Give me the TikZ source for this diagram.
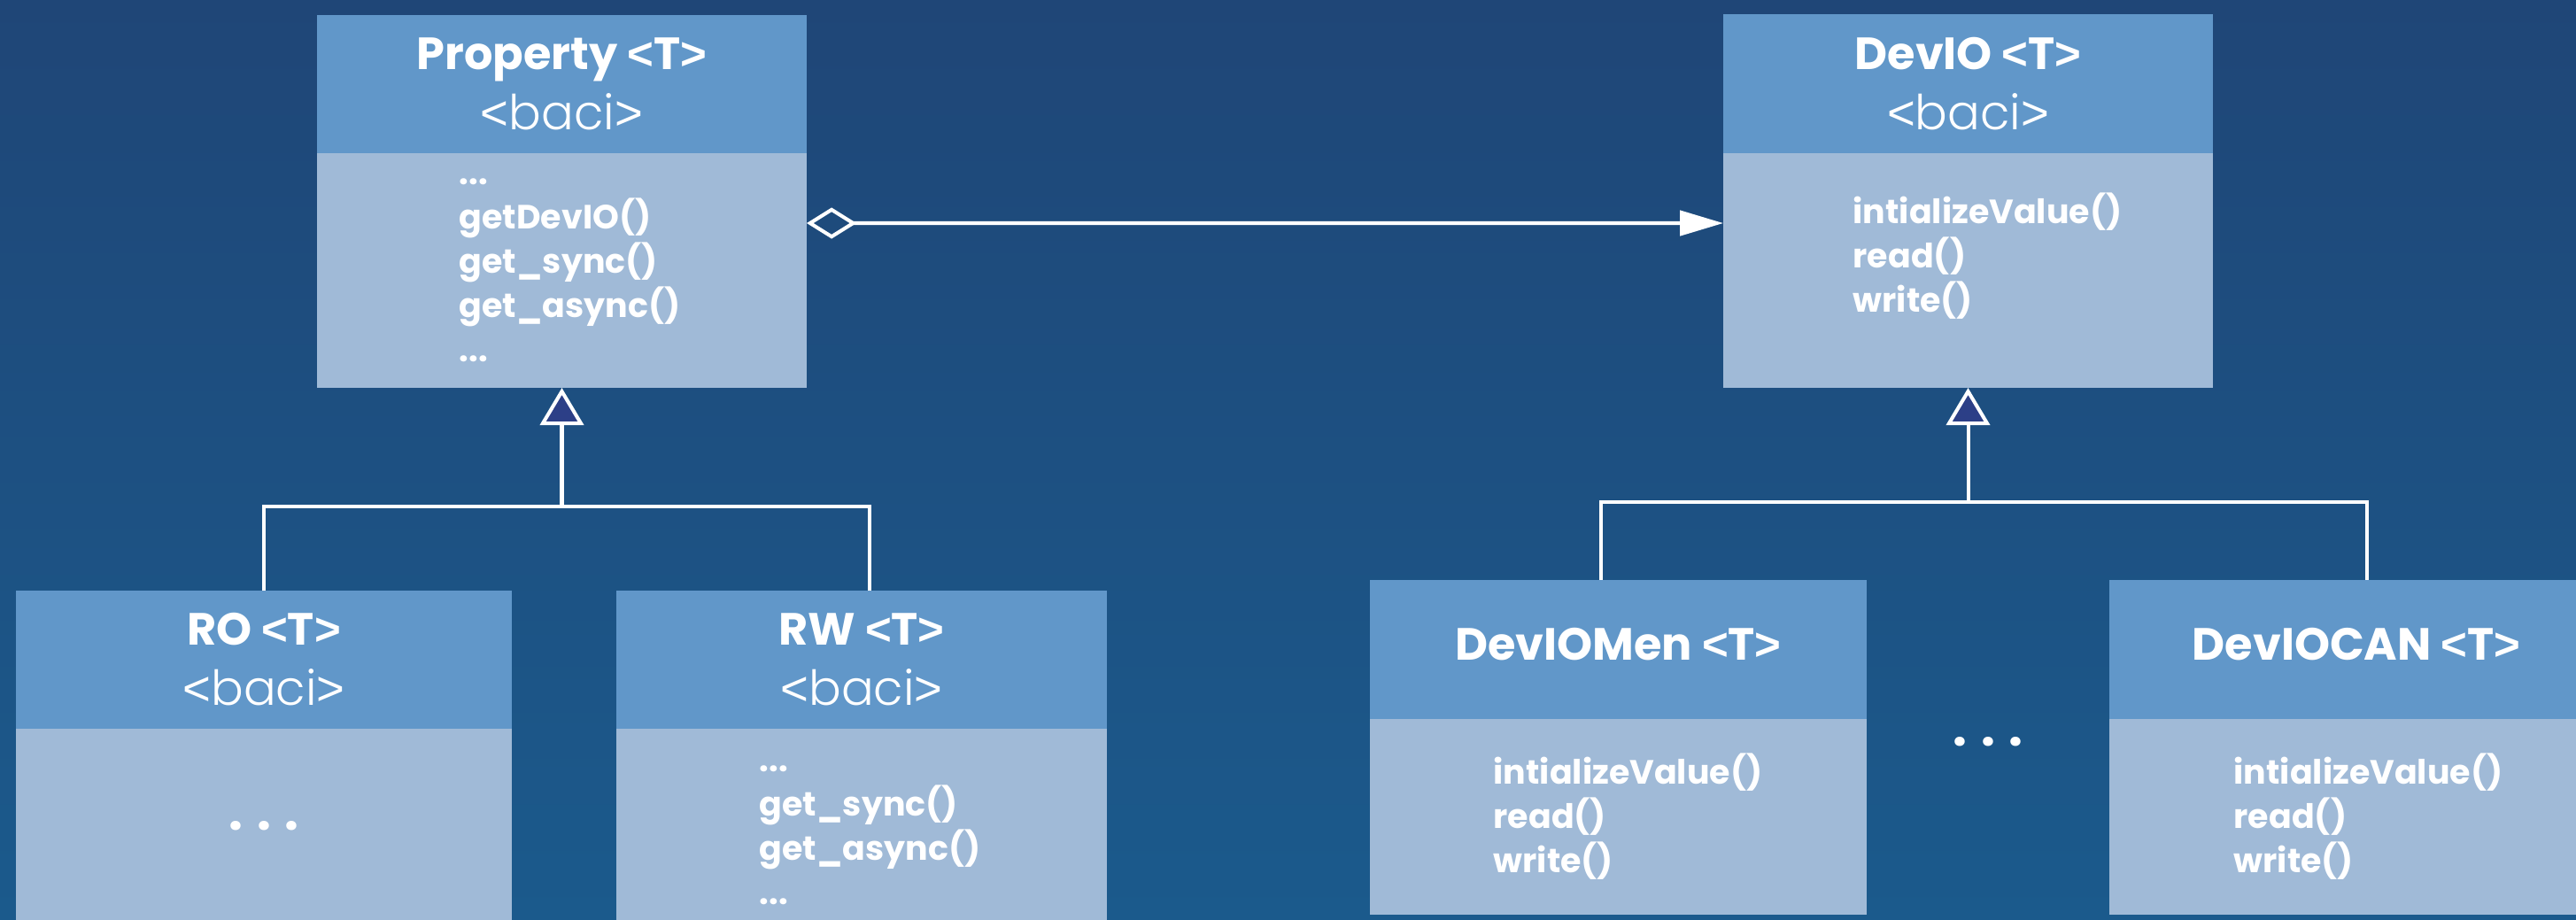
\documentclass[tikz,border=0pt]{standalone}
\usepackage{fontspec}
\setmainfont{Poppins}
\newfontfamily\bacifont{Poppins Light}
\newfontfamily\brkfont{Liberation Sans}
\usetikzlibrary{positioning, arrows.meta, calc}

\definecolor{bgtop}{HTML}{1F4677}
\definecolor{bgbot}{HTML}{1B5A8C}
\definecolor{hdrblue}{HTML}{6197C9}
\definecolor{bodyblue}{HTML}{A0BAD7}
\definecolor{triblue}{HTML}{2C3F87}

\newcommand{\hdrfont}{\fontsize{14.5}{19.35}\selectfont\bfseries}
\newcommand{\methfont}{\fontsize{10.8}{14.2}\selectfont\bfseries}
\newcommand{\openang}{{\brkfont<}}
\newcommand{\closeang}{{\brkfont>}}
\newcommand{\baci}{{\mdseries\bacifont\fontsize{15.5}{19.35}\selectfont\openang baci\closeang}}

\begin{document}
\begin{tikzpicture}[
		hdr/.style={rectangle, fill=hdrblue, text=white, inner sep=0pt, outer sep=0pt, align=center, font=\hdrfont, minimum height=1.56cm},
		body/.style={rectangle, fill=bodyblue, inner sep=0pt, outer sep=0pt},
		meth/.style={text=white, inner sep=0pt, align=left, font=\methfont},
		ellip/.style={text=white, inner sep=0pt, font=\fontsize{16}{16}\selectfont\bfseries},
		wire/.style={draw=white, line width=1.15pt},
		inh/.style={wire, -{Triangle[width=14pt, length=12pt, fill=triblue]}},
		agg/.style={wire, {Diamond[open, width=10pt, length=16pt]}-{Triangle[width=8pt, length=13.9pt]}},
		]
		
		\useasboundingbox (0,0) rectangle (29.09,-10.38);
		\fill[top color=bgtop, bottom color=bgbot] (0,0) rectangle (29.09,-10.38);
		
		%Property
		\node[hdr, minimum width=5.53cm, anchor=north west] (propH) at (3.58,-0.17) {Property \openang T\closeang\\\baci};
		\node[body, minimum width=5.53cm, minimum height=2.65cm, below=0pt of propH] (propB) {};
		\node[meth, right=1.60cm of propB.west] (propM) {...\\getDevIO()\\get\_sync()\\get\_async()\\...};
		
		%DevIO
		\node[hdr, minimum width=5.53cm, minimum height=1.57cm, anchor=north west] (devioH) at (19.46,-0.16) {DevIO \openang T\closeang\\\baci};
		\node[body, minimum width=5.53cm, minimum height=2.65cm, below=0pt of devioH] (devioB) {};
		\node[meth, right=1.46cm of devioB.west, yshift=0.16cm] (devioM) {intializeValue()\\read()\\write()};
		
		%RO, RW
		\node[hdr, minimum width=5.60cm, anchor=north west] (roH) at (0.18,-6.67) {RO \openang T\closeang\\\baci};
		\node[body, minimum width=5.60cm, minimum height=2.40cm, below=0pt of roH] (roB) {};
		\node[ellip, yshift=0.1cm] (roM) at (roB) {. . .};
		
		\node[hdr, minimum width=5.54cm, anchor=north west] (rwH) at (6.96,-6.67) {RW \openang T\closeang\\\baci};
		\node[body, minimum width=5.54cm, minimum height=2.40cm, below=0pt of rwH] (rwB) {};
		\node[meth, right=1.61cm of rwB.west] (rwM) {...\\get\_sync()\\get\_async()\\...};
		
		%DevIOMen, DevIOCAN
		\node[hdr, minimum width=5.61cm, minimum height=1.57cm, text depth=3.7pt, anchor=north west] (menH) at (15.47,-6.55) {DevIOMen \openang T\closeang};
		\node[body, minimum width=5.61cm, minimum height=2.21cm, below=0pt of menH] (menB) {};
		\node[meth, right=1.39cm of menB.west] (menM) {intializeValue()\\read()\\write()};
		
		\node[hdr, minimum width=5.58cm, minimum height=1.57cm, text depth=3.7pt, anchor=north west] (canH) at (23.82,-6.55) {DevIOCAN \openang T\closeang};
		\node[body, minimum width=5.58cm, minimum height=2.21cm, below=0pt of canH] (canB) {};
		\node[meth, right=1.40cm of canB.west] (canM) {intializeValue()\\read()\\write()};
		
		\node[ellip, yshift=0.845cm] (devDots) at ($(menB.east)!0.5!(canB.west)$) {. . .};
		
		%Connectors
		\draw[agg]	([yshift=0.535cm]propB.east)	--	([yshift=0.535cm]devioB.west);
		
		\coordinate[below=1.34cm of propB] (propJ);
		\draw[inh]	(propJ)		--	(propB);
		\draw[wire]	(roH.north)	|-	(propJ)	-|	([xshift=0.09cm]rwH.north);
		
		\coordinate[below=1.29cm of devioB] (devJ);
		\draw[inh]	(devJ)		--	(devioB);
		\draw[wire]	([xshift=-0.195cm]menH.north)	|-	(devJ)	-|	([xshift=0.12cm]canH.north);
	\end{tikzpicture}
\end{document}
